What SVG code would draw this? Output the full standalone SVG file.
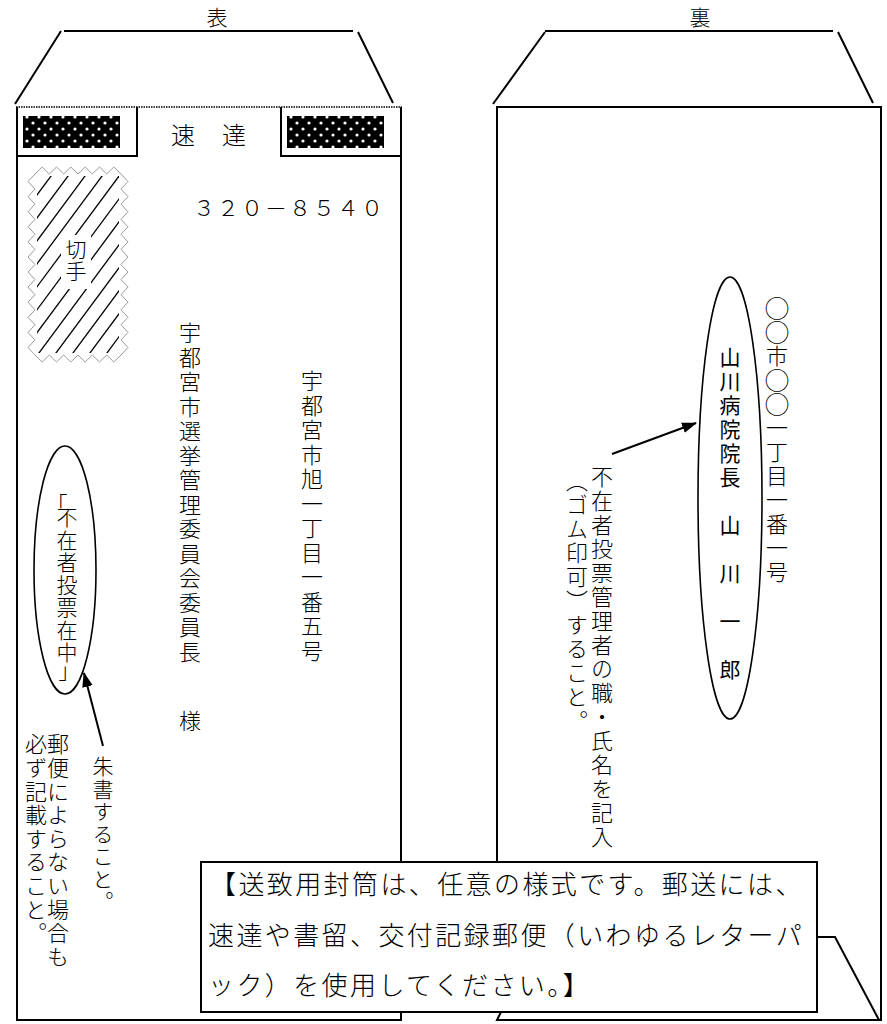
<svg xmlns="http://www.w3.org/2000/svg" width="887" height="1024" viewBox="0 0 887 1024">
<style>
.ln{fill:none;stroke:#000;stroke-width:2}
.el{fill:none;stroke:#000;stroke-width:1.6}
.t{font-family:'Noto Sans CJK JP','Noto Sans CJK SC',sans-serif;font-weight:300;fill:#000}
.v{writing-mode:vertical-rl}
.c22{font-size:22px;letter-spacing:2.5px}
.c21{font-size:21px;letter-spacing:1.5px}
.n22{font-size:22px;letter-spacing:1.6px}
.bx{font-size:26px;letter-spacing:2.4px}
.big{font-size:25px}
.ar{fill:none;stroke:#000;stroke-width:2}
</style>
<defs>
<pattern id="dots" x="21" y="111" width="12" height="12" patternUnits="userSpaceOnUse">
<rect width="12" height="12" fill="#000"/>
<circle cx="6" cy="6" r="1.6" fill="#fff"/>
<circle cx="0" cy="0" r="1.6" fill="#fff"/>
<circle cx="12" cy="0" r="1.6" fill="#fff"/>
<circle cx="0" cy="12" r="1.6" fill="#fff"/>
<circle cx="12" cy="12" r="1.6" fill="#fff"/>
</pattern>
<clipPath id="stampClip"><rect x="37" y="176" width="82" height="177"/></clipPath>
<marker id="ah" viewBox="0 0 14 10" refX="13" refY="5" markerWidth="15" markerHeight="11" markerUnits="userSpaceOnUse" orient="auto">
<path d="M0,0 L14,5 L0,10 z" fill="#000"/>
</marker>
</defs>
<rect width="887" height="1024" fill="#fff"/>

<g id="front-envelope">
<text class="t" x="217" y="25" text-anchor="middle" font-size="21">表</text>
<path class="ln" d="M15,104 L61,31 M64,31 H353 M358,32 L393,103"/>
<line x1="16" y1="107" x2="402" y2="107" stroke="#000" stroke-width="1.5" stroke-dasharray="1.5 1"/>
<path class="ln" d="M17,107 V1020 H401 V107"/>
<path class="ln" d="M17,156 H137 V107 M281,107 V156 H401"/>
<rect x="23" y="116" width="97" height="32" fill="url(#dots)"/>
<rect x="287" y="116" width="97" height="32" fill="url(#dots)"/>
<text class="t" x="171" y="144" font-size="24" letter-spacing="1.5">速　達</text>
<text class="t" x="193" y="216" font-size="22" letter-spacing="2">３２０－８５４０</text>
<text class="t v c22" x="190" y="322">宇都宮市選挙管理委員会委員長</text>
<text class="t v c22" x="190" y="710">様</text>
<text class="t v c22" x="312" y="370">宇都宮市旭一丁目一番五号</text>
</g>

<g id="stamp">
<path fill="none" stroke="#9a9a9a" stroke-width="1" d="M35,174 L42.2,167 L49.3,174 L56.5,167 L63.7,174 L70.8,167 L78,174 L85.2,167 L92.3,174 L99.5,167 L106.7,174 L113.8,167 L121,174 L128,181.5 L121,189.1 L128,196.6 L121,204.2 L128,211.7 L121,219.3 L128,226.8 L121,234.3 L128,241.9 L121,249.4 L128,257 L121,264.5 L128,272 L121,279.6 L128,287.1 L121,294.7 L128,302.2 L121,309.8 L128,317.3 L121,324.8 L128,332.4 L121,339.9 L128,347.5 L121,355 L113.8,362 L106.7,355 L99.5,362 L92.3,355 L85.2,362 L78,355 L70.8,362 L63.7,355 L56.5,362 L49.3,355 L42.2,362 L35,355 L28,347.5 L35,339.9 L28,332.4 L35,324.8 L28,317.3 L35,309.8 L28,302.2 L35,294.7 L28,287.1 L35,279.6 L28,272 L35,264.5 L28,257 L35,249.4 L28,241.9 L35,234.3 L28,226.8 L35,219.3 L28,211.7 L35,204.2 L28,196.6 L35,189.1 L28,181.5 Z"/>
<g clip-path="url(#stampClip)" stroke="#000" stroke-width="1.3">
<line x1="-100" y1="357" x2="37" y2="172"/>
<line x1="-83" y1="357" x2="54" y2="172"/>
<line x1="-66" y1="357" x2="71" y2="172"/>
<line x1="-49" y1="357" x2="88" y2="172"/>
<line x1="-32" y1="357" x2="105" y2="172"/>
<line x1="-15" y1="357" x2="122" y2="172"/>
<line x1="2" y1="357" x2="139" y2="172"/>
<line x1="19" y1="357" x2="156" y2="172"/>
<line x1="36" y1="357" x2="173" y2="172"/>
<line x1="53" y1="357" x2="190" y2="172"/>
<line x1="70" y1="357" x2="207" y2="172"/>
<line x1="87" y1="357" x2="224" y2="172"/>
<line x1="104" y1="357" x2="241" y2="172"/>
</g>
<rect x="61" y="235" width="30" height="54" fill="#fff"/>
<text class="t v" x="76" y="239" font-size="21" letter-spacing="1">切手</text>
</g>

<g id="front-ellipse">
<ellipse class="el" cx="65" cy="570" rx="31" ry="124"/>
<text class="t" x="57" y="512" font-size="21" text-anchor="middle">「</text>
<text class="t v c21" x="67" y="507">不在者投票在中</text>
<text class="t" x="69" y="678" font-size="21" text-anchor="middle">」</text>
</g>

<g id="front-notes">
<text class="t v c21" x="103" y="756">朱書すること。</text>
<text class="t v n22" x="58" y="733">郵便によらない場合も</text>
<text class="t v n22" x="36" y="733">必ず記載すること。</text>
</g>

<g id="back-envelope">
<text class="t" x="700" y="25" text-anchor="middle" font-size="21">裏</text>
<path class="ln" d="M493,104 L545,32 M545,31 H833 M838,32 L873,103"/>
<path class="ln" d="M497,862 V107 H881 V1020 H497 L503,1008"/>
<text class="t v" x="777" y="296 320 345 368 392 417 441 465 489 513 537 561" font-size="22"><tspan class="big">○○</tspan>市<tspan class="big">○○</tspan>一丁目一番一号</text>
<text class="t v c22" x="602" y="466" style="letter-spacing:2px">不在者投票管理者の職・氏名を記入</text>
<text class="t v c22" x="577" y="470" style="letter-spacing:2px">（ゴム印可）すること。</text>
</g>

<g id="back-ellipse">
<ellipse class="el" cx="730" cy="498" rx="32" ry="221"/>
<text class="t v" x="730" y="347" font-size="21" letter-spacing="3" style="font-weight:400;fill:#000">山川病院院長　山　川　一　郎</text>
</g>

<g id="connectors">
<line class="ar" x1="103" y1="746" x2="84" y2="673" marker-end="url(#ah)"/>
<line class="ar" x1="612" y1="454" x2="696" y2="423" marker-end="url(#ah)"/>
<path class="ln" d="M817,937 H835 L879,1020"/>
</g>

<g id="note-box">
<rect x="201" y="862" width="616" height="150" fill="#fff" stroke="#000" stroke-width="2"/>
<text class="t bx" x="210" y="894">【送致用封筒は、任意の様式です。郵送には、</text>
<text class="t bx" x="208" y="945">速達や書留、交付記録郵便（いわゆるレターパ</text>
<text class="t bx" x="208" y="995">ック）を使用してください。】</text>
</g>
</svg>
